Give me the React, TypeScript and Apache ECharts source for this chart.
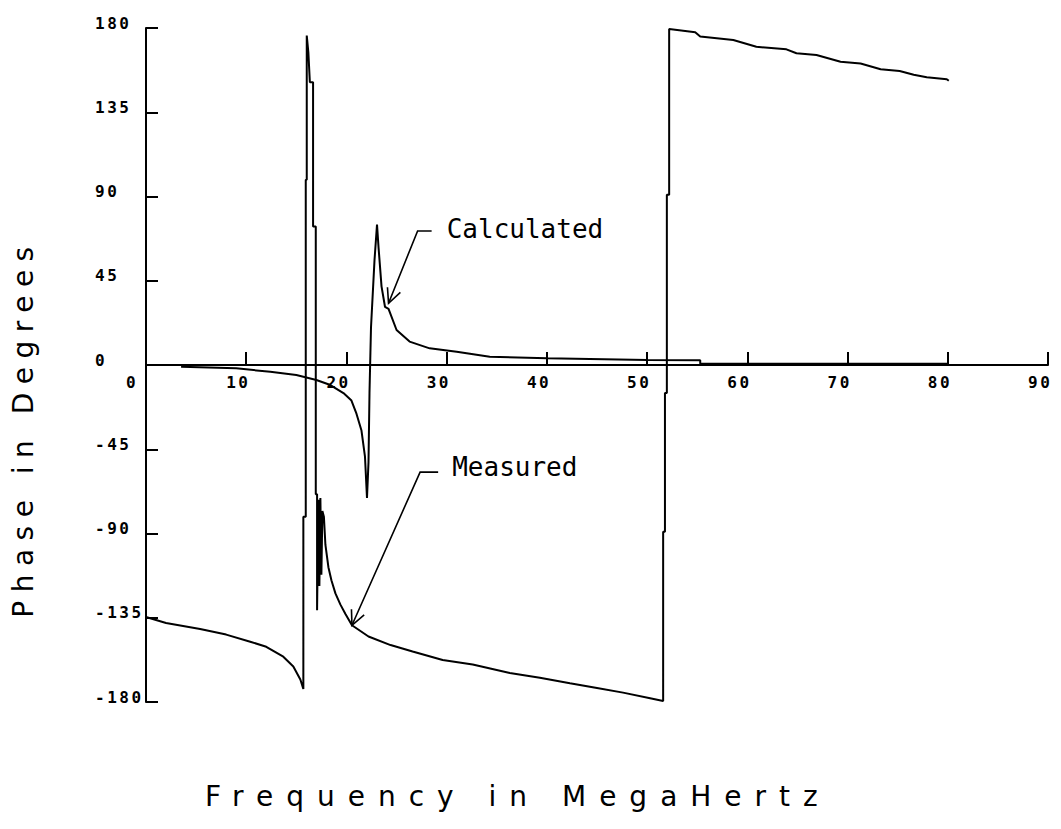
import React, { useEffect, useRef } from "react";
import * as echarts from "echarts";

// Axis ticks
const xTicks = [0, 10, 20, 30, 40, 50, 60, 70, 80, 90];
const yTicks = [-180, -135, -90, -45, 0, 45, 90, 135, 180];

// Measured phase (degrees) vs frequency (MHz)
const measuredFreq = [
  0, 2, 5.4, 8, 10.4, 12, 13.7, 14.7, 15.4, 15.7,
  15.7, 15.94, 15.94, 16.04, 16.04, 16.2, 16.35, 16.67, 16.67, 16.94,
  16.94, 17.07, 17.07, 17.2, 17.3, 17.4, 17.5, 17.6, 17.75, 17.9,
  18.2, 18.5, 18.9, 19.4, 19.9, 20.55, 22.2, 24.4, 26.6, 29.6,
  32.6, 36.3, 39.3, 42.3, 45, 47.6, 50.3, 51.6, 51.6, 51.78,
  51.78, 51.97, 51.97, 52.2, 52.2, 54.8, 55.3, 58.6, 60.9, 63.9,
  64.9, 66.9, 69.3, 71.3, 73.3, 75.2, 76.6, 77.9, 79.9, 80.1,
];
const measuredPhase = [
  -134.6, -137.8, -141, -144, -147.8, -150.5, -155.8, -161, -168, -173,
  -81, -81, 99, 99, 176, 167, 151, 151, 74, 74,
  -69, -69, -131, -72, -118, -71, -112, -78, -81, -96,
  -108, -115, -122, -128, -133, -139, -145, -149.6, -153, -157.6,
  -160, -164.5, -167, -170, -172.5, -175, -178, -179.5, -89, -89,
  -15, -15, 91, 91, 179.5, 177.7, 175.4, 173.6, 170, 168.6,
  166.5, 165.6, 162, 161, 158, 157, 155, 153.7, 152.6, 151.8,
];

// Calculated phase (degrees) vs frequency (MHz)
const calculatedFreq = [
  3.5, 9, 12.4, 15, 17, 18.4, 19.7, 20.5, 21, 21.5,
  21.85, 22.05, 22.2, 22.3, 22.45, 22.8, 23.05, 23.2, 23.5, 23.85,
  24.2, 25, 26.3, 28.3, 31, 34.3, 40, 50, 55.3, 55.3, 80,
];
const calculatedPhase = [
  -1, -1.8, -3.6, -5.3, -8, -10.7, -15, -19, -26, -35,
  -49, -71, -52, -15, 20, 56, 75, 63, 42, 31,
  30, 18.7, 12.5, 8.9, 7.1, 4.4, 3.6, 2.7, 2.5, 0.7, 0.7,
];

// Annotations (data coordinates)
const annotations = [
  { label: "Calculated", tip: [24.2, 33], elbow: [27.1, 71.6], hEnd: [28.5, 71.6], textAt: [30.0, 72.5] },
  { label: "Measured", tip: [20.55, -139], elbow: [27.35, -57.2], hEnd: [29.15, -57.2], textAt: [30.55, -54.5] },
];

const xTitle = "Frequency in MegaHertz";
const yTitle = "Phase in Degrees";

const css = `
#phase-chart text[style*="xtitlefont"] { letter-spacing: 13px; }
#phase-chart text[style*="ytitlefont"] { letter-spacing: 8.5px; }
#phase-chart text[style*="tickfont"] { letter-spacing: 2.5px; }
`;

const GRID = { left: 146, right: 13, top: 28, bottom: 127 };
const HEIGHT = 829;

export default function App() {
  const ref = useRef<HTMLDivElement>(null);

  useEffect(() => {
    if (!ref.current) return;
    const chart = echarts.init(ref.current, undefined, { renderer: "svg" });
    const tickFont = "'DejaVu Sans Mono', tickfont";
    const gridH = HEIGHT - GRID.top - GRID.bottom;
    const option: any = {
      animation: false,
      backgroundColor: "#fff",
      grid: { ...GRID, containLabel: false, outerBoundsMode: "none" },
      xAxis: {
        type: "value",
        position: "bottom",
        offset: -gridH / 2,
        min: 0,
        max: 90,
        interval: 10,
        axisLine: { show: true, onZero: false, lineStyle: { color: "#000", width: 2 } },
        axisTick: { show: true, inside: true, length: 13, lineStyle: { color: "#000", width: 2 }, customValues: xTicks },
        splitLine: { show: false },
        axisLabel: {
          show: true,
          customValues: xTicks,
          margin: 10,
          align: "center",
          hideOverlap: false,
          formatter: (v: number) => `{a|${v}}`,
          rich: {
            a: {
              width: 40,
              align: "left",
              fontFamily: tickFont,
              fontWeight: "bold",
              fontSize: 16,
              lineHeight: 14,
              color: "#000",
            },
          },
        },
      },
      yAxis: {
        type: "value",
        min: -180,
        max: 180,
        interval: 45,
        axisLine: { show: true, onZero: false, lineStyle: { color: "#000", width: 2 } },
        axisTick: { show: true, inside: true, length: 12, lineStyle: { color: "#000", width: 2 }, customValues: yTicks },
        splitLine: { show: false },
        axisLabel: {
          show: true,
          customValues: yTicks,
          align: "left",
          margin: 51,
          verticalAlign: "bottom",
          fontFamily: tickFont,
          fontWeight: "bold",
          fontSize: 16,
          lineHeight: 10,
          color: "#000",
        },
      },
      series: [
        {
          name: "Measured",
          type: "line",
          showSymbol: false,
          data: measuredFreq.map((f, i) => [f, measuredPhase[i]]),
          lineStyle: { color: "#000", width: 2 },
          itemStyle: { color: "#000" },
          z: 3,
        },
        {
          name: "Calculated",
          type: "line",
          showSymbol: false,
          data: calculatedFreq.map((f, i) => [f, calculatedPhase[i]]),
          lineStyle: { color: "#000", width: 2 },
          itemStyle: { color: "#000" },
          z: 3,
        },
      ],
    };
    chart.setOption(option);

    const toPx = (p: number[]) => chart.convertToPixel({ gridIndex: 0 }, p) as number[];
    const graphics: any[] = [];
    annotations.forEach((a) => {
      const tip = toPx(a.tip);
      const elbow = toPx(a.elbow);
      const hEnd = toPx(a.hEnd);
      const txt = toPx(a.textAt);
      graphics.push({
        type: "polyline",
        silent: true,
        shape: { points: [hEnd, elbow, tip] },
        style: { stroke: "#000", lineWidth: 1.6, fill: "none" },
      });
      const ang = Math.atan2(elbow[1] - tip[1], elbow[0] - tip[0]);
      const L = 16;
      const spread = 0.45;
      const b1 = [tip[0] + L * Math.cos(ang + spread), tip[1] + L * Math.sin(ang + spread)];
      const b2 = [tip[0] + L * Math.cos(ang - spread), tip[1] + L * Math.sin(ang - spread)];
      graphics.push({
        type: "polyline",
        silent: true,
        shape: { points: [b1, tip, b2] },
        style: { stroke: "#000", lineWidth: 1.6, fill: "none" },
      });
      graphics.push({
        type: "text",
        silent: true,
        x: txt[0],
        y: txt[1],
        style: {
          text: a.label,
          fontFamily: "'DejaVu Sans Mono'",
          fontSize: 26,
          fill: "#000",
          align: "left",
          verticalAlign: "middle",
        },
      });
    });
    graphics.push({
      type: "text",
      silent: true,
      x: 23,
      y: 428,
      rotation: Math.PI / 2,
      style: {
        text: yTitle,
        fontFamily: "'DejaVu Sans', ytitlefont",
        fontSize: 28,
        fill: "#000",
        align: "center",
        verticalAlign: "middle",
      },
    });
    graphics.push({
      type: "text",
      silent: true,
      x: 205,
      y: 796,
      style: {
        text: xTitle,
        fontFamily: "'DejaVu Sans', xtitlefont",
        fontSize: 28,
        fill: "#000",
        align: "left",
        verticalAlign: "middle",
      },
    });
    chart.setOption({ graphic: graphics });

    return () => chart.dispose();
  }, []);

  return (
    <>
      <style>{css}</style>
      <div
        id="phase-chart"
        ref={ref}
        style={{ position: "absolute", left: 0, top: 0, width: 1061, height: HEIGHT, background: "#fff" }}
      />
    </>
  );
}
